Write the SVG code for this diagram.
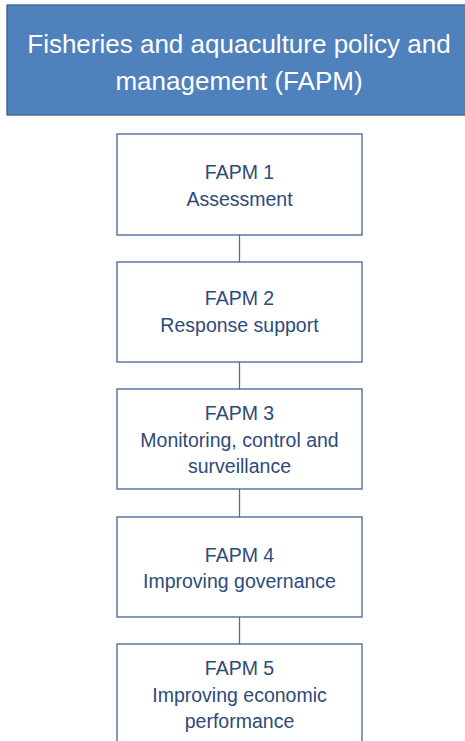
<svg xmlns="http://www.w3.org/2000/svg" width="465" height="741" viewBox="0 0 465 741">
<style>
.hdr{fill:#4F81BD;stroke:#3A5F8F;stroke-width:1.3}
.box{fill:#FFFFFF;stroke:#41639A;stroke-width:1.3}
.ht{font-family:"Liberation Sans",Arial,sans-serif;font-size:26px;fill:#FFFFFF;text-anchor:middle}
.bt{font-family:"Liberation Sans",Arial,sans-serif;font-size:19.5px;fill:#2E4A7A;text-anchor:middle}
.con line{stroke:#4A6FA5;stroke-width:1.3}
</style>
<rect width="465" height="741" fill="#FFFFFF"/>
<g id="header">
<rect class="hdr" x="7" y="5" width="466" height="110"/>
<text class="ht" x="239" y="53">Fisheries and aquaculture policy and</text>
<text class="ht" x="239" y="90">management (FAPM)</text>
</g>
<g id="connectors" class="con">
<line x1="239.5" y1="235" x2="239.5" y2="262"/>
<line x1="239.5" y1="362" x2="239.5" y2="389"/>
<line x1="239.5" y1="489" x2="239.5" y2="517"/>
<line x1="239.5" y1="617" x2="239.5" y2="644"/>
</g>
<g id="fapm1">
<rect class="box" x="117" y="134" width="245" height="101"/>
<text class="bt" x="239.5" y="179">FAPM 1</text>
<text class="bt" x="239.5" y="206">Assessment</text>
</g>
<g id="fapm2">
<rect class="box" x="117" y="262" width="245" height="100"/>
<text class="bt" x="239.5" y="305">FAPM 2</text>
<text class="bt" x="239.5" y="332">Response support</text>
</g>
<g id="fapm3">
<rect class="box" x="117" y="389" width="245" height="100"/>
<text class="bt" x="239.5" y="420">FAPM 3</text>
<text class="bt" x="239.5" y="447">Monitoring, control and</text>
<text class="bt" x="239.5" y="473">surveillance</text>
</g>
<g id="fapm4">
<rect class="box" x="117" y="517" width="245" height="100"/>
<text class="bt" x="239.5" y="562">FAPM 4</text>
<text class="bt" x="239.5" y="588">Improving governance</text>
</g>
<g id="fapm5">
<rect class="box" x="117" y="644" width="245" height="102"/>
<text class="bt" x="239.5" y="675">FAPM 5</text>
<text class="bt" x="239.5" y="702">Improving economic</text>
<text class="bt" x="239.5" y="728">performance</text>
</g>
</svg>
